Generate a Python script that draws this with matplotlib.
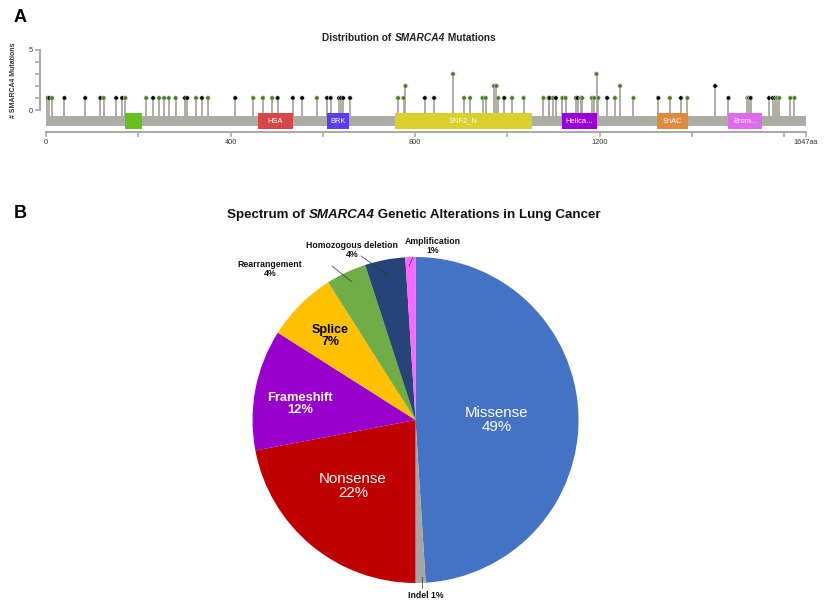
import numpy as np
import matplotlib
matplotlib.use("Agg")
import matplotlib.pyplot as plt

plt.rcParams['font.family'] = ['Liberation Sans', 'DejaVu Sans']

# ---- panel A data: SMARCA4 lollipop plot ----
protein_len = 1647
mut_pos = [2, 7, 13, 40, 85, 118, 125, 152, 165, 172, 217, 232, 245, 256, 266,
           281, 301, 306, 325, 338, 351, 410, 449, 470, 490, 502, 535, 555, 587, 609,
           617, 635, 639, 644, 659, 763, 775, 779, 821, 841, 882, 906, 919, 946, 953,
           971, 976, 980, 993, 1010, 1035, 1078, 1089, 1091, 1099, 1105, 1119, 1126,
           1149, 1152, 1159, 1162, 1183, 1188, 1193, 1197, 1216, 1233, 1244, 1273,
           1327, 1352, 1376, 1390, 1450, 1479,
           1520, 1523, 1527, 1567, 1575, 1580, 1584, 1589, 1613, 1622]
mut_count = [1, 1, 1, 1, 1, 1, 1, 1, 1, 1, 1, 1, 1, 1, 1,
             1, 1, 1, 1, 1, 1, 1, 1, 1, 1, 1, 1, 1, 1, 1,
             1, 1, 1, 1, 1, 1, 1, 2, 1, 1, 3, 1, 1, 1, 1,
             2, 2, 1, 1, 1, 1, 1, 1, 1, 1, 1, 1, 1,
             1, 1, 1, 1, 1, 1, 3, 1, 1, 1, 2, 1,
             1, 1, 1, 1, 2, 1,
             1, 1, 1, 1, 1, 1, 1, 1, 1, 1]
# 'g' = missense, 'b' = truncating
mut_type = list("gbgbbbgbbggbggg"
                "gbbgbgbgggbbbgb"
                "bbbbbgggbbggggg"
                "gggbggggbgbgg"
                "bbggggggbggg"
                "bgbgbb"
                "ggbbbbgggg")

dom_names = ['', 'HSA', 'BRK', 'SNF2_N', 'Helica...', 'SnAC', 'Brom...']
dom_start = [171, 459, 609, 756, 1118, 1324, 1478]
dom_end = [208, 535, 657, 1053, 1194, 1391, 1552]
dom_colors = ['#66c11f', '#d44848', '#5b3cf2', '#d9d02e', '#9900d4', '#e08a3c', '#de6aee']

# ---- panel B data: pie chart ----
alt_names = ['Missense', 'Indel', 'Nonsense', 'Frameshift', 'Splice',
             'Rearrangement', 'Homozogous deletion', 'Amplification']
alt_pct = [49, 1, 22, 12, 7, 4, 4, 1]
alt_colors = ['#4472c4', '#a5a5a5', '#c00000', '#9900cc', '#ffc000',
              '#70ad47', '#264478', '#ff66ff']

W, H = 840, 603
fig = plt.figure(figsize=(W / 100, H / 100), dpi=100)


def fx(x):
    return x / W


def fy(y):
    return 1 - y / H


# panel letters
fig.text(fx(14), fy(17), 'A', fontsize=13, fontweight='bold', va='center')
fig.text(fx(14), fy(213), 'B', fontsize=13, fontweight='bold', va='center')


def mixed_title(cx, cy, parts, size, color='#111111'):
    texts = []
    for s, style in parts:
        texts.append(fig.text(0, fy(cy), s, fontsize=size, fontweight='bold',
                              fontstyle=style, va='center', color=color))
    r = fig.canvas.get_renderer()
    widths = [t.get_window_extent(r).width for t in texts]
    x = cx - sum(widths) / 2
    for t, w in zip(texts, widths):
        t.set_x(fx(x))
        x += w


mixed_title(409, 38, [('Distribution of ', 'normal'), ('SMARCA4', 'italic'),
                      (' Mutations', 'normal')], 7.3, '#222222')
mixed_title(414, 215, [('Spectrum of ', 'normal'), ('SMARCA4', 'italic'),
                       (' Genetic Alterations in Lung Cancer', 'normal')], 9.6)

# ---- panel A ----
ax1 = fig.add_axes([fx(46), fy(132), fx(806) - fx(46), fy(40) - fy(132)])
ax1.set_xlim(0, protein_len)
ax1.set_ylim(-1.833, 5.833)
grey = '#acaca4'
ax1.add_patch(plt.Rectangle((0, -1.33), protein_len, 0.83, color=grey, lw=0, zorder=2))
for n, s, e, c in zip(dom_names, dom_start, dom_end, dom_colors):
    ax1.add_patch(plt.Rectangle((s, -1.58), e - s, 1.36, color=c, lw=0, zorder=3))
    if n:
        ax1.text((s + e) / 2, -0.92, n, color='white', fontsize=5.4,
                 ha='center', va='center', zorder=4)

ax1.vlines(mut_pos, -0.5, mut_count, color='#a8a89e', lw=1.3, zorder=1)
head_cols = ['#44801c' if t == 'g' else '#000000' for t in mut_type]
ax1.scatter(mut_pos, mut_count, s=10, c=head_cols, edgecolors='#d8d8d8',
            linewidths=0.4, zorder=5)

for side in ['top', 'right']:
    ax1.spines[side].set_visible(False)
ax1.spines['left'].set_bounds(0, 5)
ax1.spines['left'].set_position(('outward', 4.3))
ax1.spines['bottom'].set_bounds(0, protein_len)
for side in ['left', 'bottom']:
    ax1.spines[side].set_color('#aaaaaa')
    ax1.spines[side].set_linewidth(1.5)
ax1.set_yticks([0, 1, 2, 3, 4, 5])
ax1.set_yticklabels(['0', '', '', '', '', '5'])
ax1.set_xticks([0, 200, 400, 600, 800, 1000, 1200, 1400, 1600, protein_len])
ax1.set_xticklabels(['0', '', '400', '', '800', '', '1200', '', '', '1647aa'])
ax1.tick_params(axis='both', colors='#aaaaaa', labelcolor='#333333',
                labelsize=5.3, length=3.5, width=1.2, pad=1.5)
fig.text(fx(14), fy(80), '# SMARCA4 Mutations', rotation=90, fontsize=5,
         fontweight='bold', color='#333333', ha='center', va='center')

# ---- panel B ----
ax2 = fig.add_axes([fx(252.5), fy(583), fx(578.5) - fx(252.5), fy(257) - fy(583)])
ax2.pie(alt_pct, colors=alt_colors, startangle=90, counterclock=False,
        radius=1, wedgeprops=dict(linewidth=0))
ax2.set_xlim(-1, 1)
ax2.set_ylim(-1, 1)


def px2d(x, y):
    return (x - 415.5) / 163, (420 - y) / 163


def lab(i, x, y, color, size, weight, sep='\n'):
    dx, dy = px2d(x, y)
    ax2.text(dx, dy, f'{alt_names[i]}{sep}{alt_pct[i]}%', color=color,
             fontsize=size, fontweight=weight, ha='center', va='center',
             linespacing=1.05)


lab(0, 497, 420, 'white', 10.8, 'normal')
lab(2, 353, 486, 'white', 10.8, 'normal')
lab(3, 300, 404, 'white', 9.3, 'bold')
lab(4, 330, 336, 'black', 9, 'bold')
lab(5, 270, 269, '#111111', 6.3, 'bold')
lab(6, 352, 250, '#111111', 6.3, 'bold')
lab(7, 433, 246, '#111111', 6.3, 'bold')
lab(1, 426, 596, '#111111', 6.3, 'bold', sep=' ')

leaders = [((332, 266), (352, 282)), ((361, 256), (388, 275)),
           ((413, 257), (409, 266)), ((422, 577), (422, 588))]
for (x0, y0), (x1, y1) in leaders:
    a = px2d(x0, y0)
    b = px2d(x1, y1)
    ax2.plot([a[0], b[0]], [a[1], b[1]], color='#333333', lw=0.5, clip_on=False)

fig.savefig('out.png', dpi=100)
